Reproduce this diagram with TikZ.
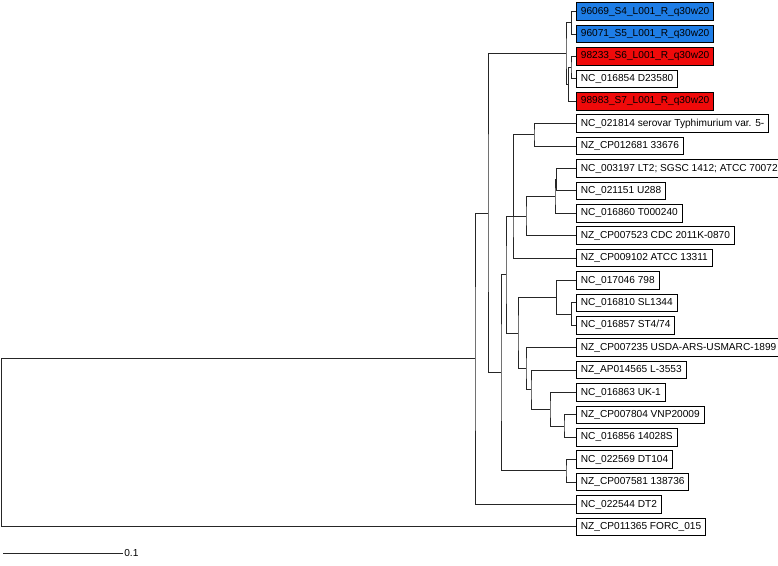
\documentclass[tikz,border=0pt]{standalone}
\usepackage{fontspec}
\setmainfont{Liberation Sans}
\definecolor{hiblue}{RGB}{30,125,230}
\definecolor{hired}{RGB}{240,10,10}
\begin{document}
\begin{tikzpicture}[x=0.75pt,y=-0.75pt,
  leaf/.style={draw=black, line width=0.75pt, anchor=west, font=\fontsize{7.6}{8}\selectfont,
    inner xsep=3.3pt, inner ysep=0pt, minimum height=13.2pt, fill=white},
  bluebox/.style={leaf, fill=hiblue},
  redbox/.style={leaf, fill=hired},
  branch/.style={draw=black!85, line width=0.7pt}]
\useasboundingbox (0,0) rectangle (778,565);
% leaves
\node[bluebox] (l0) at (576,11.7) {96069\_S4\_L001\_R\_q30w20};
\node[bluebox] (l1) at (576,34.1) {96071\_S5\_L001\_R\_q30w20};
\node[redbox] (l2) at (576,56.5) {98233\_S6\_L001\_R\_q30w20};
\node[leaf] (l3) at (576,78.9) {NC\_016854 D23580};
\node[redbox] (l4) at (576,101.3) {98983\_S7\_L001\_R\_q30w20};
\node[leaf] (l5) at (576,123.7) {NC\_021814 serovar Typhimurium var. 5-};
\node[leaf] (l6) at (576,146.1) {NZ\_CP012681 33676};
\node[leaf] (l7) at (576,168.5) {NC\_003197 LT2; SGSC 1412; ATCC 70072\hspace{12pt}};
\node[leaf] (l8) at (576,190.9) {NC\_021151 U288};
\node[leaf] (l9) at (576,213.3) {NC\_016860 T000240};
\node[leaf] (l10) at (576,235.7) {NZ\_CP007523 CDC 2011K-0870};
\node[leaf] (l11) at (576,258.1) {NZ\_CP009102 ATCC 13311};
\node[leaf] (l12) at (576,280.5) {NC\_017046 798};
\node[leaf] (l13) at (576,302.9) {NC\_016810 SL1344};
\node[leaf] (l14) at (576,325.3) {NC\_016857 ST4/74};
\node[leaf] (l15) at (576,347.7) {NZ\_CP007235 USDA-ARS-USMARC-1899};
\node[leaf] (l16) at (576,370.1) {NZ\_AP014565 L-3553};
\node[leaf] (l17) at (576,392.5) {NC\_016863 UK-1};
\node[leaf] (l18) at (576,414.9) {NZ\_CP007804 VNP20009};
\node[leaf] (l19) at (576,437.3) {NC\_016856 14028S};
\node[leaf] (l20) at (576,459.7) {NC\_022569 DT104};
\node[leaf] (l21) at (576,482.1) {NZ\_CP007581 138736};
\node[leaf] (l22) at (576,504.5) {NC\_022544 DT2};
\node[leaf] (l23) at (576,526.9) {NZ\_CP011365 FORC\_015};
% internal nodes
\coordinate (n01) at (571.7,22.9);
\coordinate (n23) at (571,67.7);
\coordinate (n234) at (568.5,84.5);
\coordinate (nA) at (566,53.7);
\coordinate (n56) at (534,134.9);
\coordinate (n78) at (556.5,179.7);
\coordinate (n789) at (555,196.5);
\coordinate (n710) at (526,216.1);
\coordinate (v1) at (513.8,175.5);
\coordinate (v2) at (513,216.8);
\coordinate (n1314) at (571.7,314.1);
\coordinate (n1214) at (556.7,297.3);
\coordinate (n1819) at (564,426.1);
\coordinate (n1719) at (550,409.3);
\coordinate (n1619) at (531,389.7);
\coordinate (n1519) at (526,368.7);
\coordinate (n1219) at (518,333.0);
\coordinate (nC) at (506,274.9);
\coordinate (n2021) at (566,470.9);
\coordinate (nB) at (501,372.9);
\coordinate (nAB) at (488,213.3);
\coordinate (n022) at (475,358.9);
\coordinate (root) at (1.5,442.9);
% branches
\draw[branch] (l0.west) -| (n01) |- (l1.west);
\draw[branch] (l2.west) -| (n23) |- (l3.west);
\draw[branch] (n23) -| (n234) |- (l4.west);
\draw[branch] (n01) -| (nA) |- (n234);
\draw[branch] (l5.west) -| (n56) |- (l6.west);
\draw[branch] (l7.west) -| (n78) |- (l8.west);
\draw[branch] (n78) -| (n789) |- (l9.west);
\draw[branch] (n789) -| (n710) |- (l10.west);
\draw[branch] (n56) -| (v1) |- (n710);
\draw[branch] (v1) -| (v2) |- (l11.west);
\draw[branch] (l13.west) -| (n1314) |- (l14.west);
\draw[branch] (l12.west) -| (n1214) |- (n1314);
\draw[branch] (l18.west) -| (n1819) |- (l19.west);
\draw[branch] (l17.west) -| (n1719) |- (n1819);
\draw[branch] (l16.west) -| (n1619) |- (n1719);
\draw[branch] (l15.west) -| (n1519) |- (n1619);
\draw[branch] (n1214) -| (n1219) |- (n1519);
\draw[branch] (v2) -| (nC) |- (n1219);
\draw[branch] (l20.west) -| (n2021) |- (l21.west);
\draw[branch] (nC) -| (nB) |- (n2021);
\draw[branch] (nA) -| (nAB) |- (nB);
\draw[branch] (nAB) -| (n022) |- (l22.west);
\draw[branch] (n022) -| (root) |- (l23.west);
% scale bar
\coordinate (sb0) at (3,553.5);
\coordinate (sb1) at (122.7,553.5);
\draw[branch] (sb0) -- (sb1);
\node[anchor=west, inner sep=1pt, font=\fontsize{7.6}{8}\selectfont] (sbl) at (sb1) {0.1};
\end{tikzpicture}
\end{document}
